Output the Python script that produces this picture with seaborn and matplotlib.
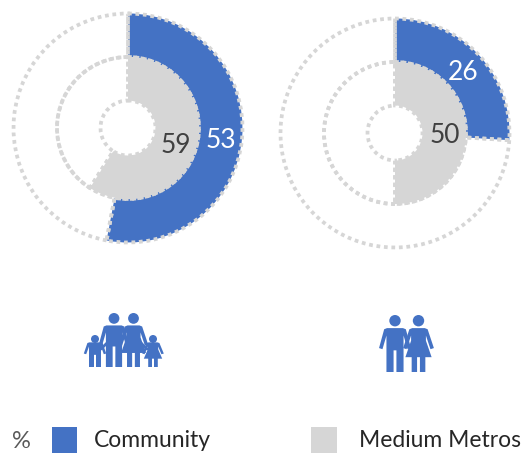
import seaborn as sns
import matplotlib.pyplot as plt
from matplotlib.patches import Circle, Polygon, Rectangle

# values, outer ring is community, inner ring is medium metros
community = [53, 26]
medium_metros = [59, 50]
series_names = ["Community", "Medium Metros"]

sns.set_theme(style="white")
plt.rcParams['font.family'] = ['Lato', 'DejaVu Sans']
blue, grey = sns.color_palette(["#4472C4", "#D6D6D6"])
dark = "#404040"

fig = plt.figure(figsize=(5.31, 4.61), dpi=100)
ax = fig.add_axes([0, 0, 1, 1])


def ring(cx, cy, r, value, color):
    # y axis is flipped below, so counterclock + -90 means clockwise from 12
    ax.pie([value, 100 - value], colors=[color, "none"], center=(cx, cy), radius=r,
           startangle=-90, counterclock=True, frame=True,
           wedgeprops=dict(width=43.5, edgecolor=grey, linewidth=2.7, linestyle=(0, (1, 1.0))))


def person(x, top, h, skirt=False, w=1.0):
    r = 0.1 * h if w == 1.0 else 0.125 * h
    ax.add_patch(Circle((x, top + r), r, color=blue, lw=0))
    if skirt:
        half = [(.11, .23), (.16, .25), (.27, .58), (.21, .60), (.13, .36), (.13, .45),
                (.23, .74), (.12, .74), (.12, 1), (.025, 1), (.025, .74)]
    else:
        half = [(.14, .23), (.19, .25), (.28, .58), (.22, .60), (.15, .36), (.15, 1),
                (.025, 1), (.025, .62)]
    pts = half + [(-a, b) for a, b in half[::-1]]
    ax.add_patch(Polygon([(x + a * h * w, top + b * h) for a, b in pts], color=blue, lw=0))


centers = [(128, 128), (395, 133)]
for i, (cx, cy) in enumerate(centers):
    ring(cx, cy, 114.5, community[i], blue)
    ring(cx, cy, 71, medium_metros[i], grey)

ax.set_xlim(0, 531)
ax.set_ylim(461, 0)
ax.set_aspect("equal")
ax.axis("off")

# value labels
ax.text(221, 140, str(community[0]), color="white", fontsize=19, ha="center", va="center")
ax.text(176, 145, str(medium_metros[0]), color=dark, fontsize=19, ha="center", va="center")
ax.text(463, 72, str(community[1]), color="white", fontsize=19, ha="center", va="center")
ax.text(445, 135, str(medium_metros[1]), color=dark, fontsize=19, ha="center", va="center")

# family icon
person(114, 313, 54)
person(133.5, 313, 54, skirt=True)
person(95, 335, 32, w=1.25)
person(153, 335, 32, skirt=True, w=1.25)
ax.plot([101, 107], [349, 343], color=blue, lw=2)
ax.plot([147, 141], [349, 343], color=blue, lw=2)

# couple icon
person(395, 315, 57)
person(418.5, 315, 57, skirt=True)

# legend
ax.text(21.5, 441, "%", color="#595959", fontsize=17, ha="center", va="center")
ax.add_patch(Rectangle((52, 427), 25, 26, color=blue, lw=0))
ax.add_patch(Rectangle((311, 427), 26, 26, color=grey, lw=0))
ax.text(94, 440, series_names[0], color="#262626", fontsize=16.5, va="center")
ax.text(359, 440, series_names[1], color="#262626", fontsize=16.5, va="center")

plt.savefig('out.png', format='png', dpi=100)
plt.close()
